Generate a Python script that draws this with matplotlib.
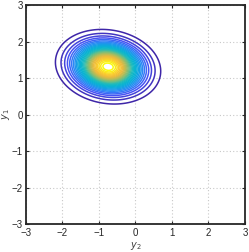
import numpy as np
import matplotlib
matplotlib.use('Agg')
import matplotlib.pyplot as plt
from matplotlib.colors import LinearSegmentedColormap

# distribution
mu = [-0.75, 1.31]          # (y2, y1) of the peak
sd = [0.55, 0.39]           # spread along y2 and y1
rho = -0.12                 # correlation
n_levels = 30               # contour levels, evenly spaced fractions of the peak

ticks = [-3, -2, -1, 0, 1, 2, 3]

# parula-like colormap
parula = LinearSegmentedColormap.from_list('parula', [
    (0.00, (0.2422, 0.1504, 0.6603)),
    (0.10, (0.2810, 0.3228, 0.9579)),
    (0.20, (0.1786, 0.5289, 0.9682)),
    (0.30, (0.0689, 0.6376, 0.8891)),
    (0.40, (0.0297, 0.7082, 0.8163)),
    (0.50, (0.1400, 0.7350, 0.7200)),
    (0.60, (0.4420, 0.7481, 0.5033)),
    (0.70, (0.7157, 0.7378, 0.3405)),
    (0.80, (0.9264, 0.7308, 0.2407)),
    (0.90, (0.9856, 0.8008, 0.1783)),
    (1.00, (0.9763, 0.9831, 0.0538)),
])

x = np.linspace(-3, 3, 500)
y = np.linspace(-3, 3, 500)
X, Y = np.meshgrid(x, y)
dx = (X - mu[0]) / sd[0]
dy = (Y - mu[1]) / sd[1]
Z = np.exp(-(dx**2 - 2*rho*dx*dy + dy**2) / (2*(1 - rho**2)))
levels = np.arange(1, n_levels + 1) / (n_levels + 1)

plt.rcParams['font.family'] = ['Liberation Sans', 'DejaVu Sans']
fig = plt.figure(figsize=(2.49, 2.52), dpi=100)
ax = fig.add_axes([0.104, 0.111, 0.88, 0.869])

ax.contour(X, Y, Z, levels=levels, cmap=parula, linewidths=1.1)

ax.set_xlim(-3, 3)
ax.set_ylim(-3, 3)
ax.set_xticks(ticks)
ax.set_yticks(ticks)
ax.tick_params(direction='in', length=2.5, width=0.8, labelsize=7,
               top=True, right=True, colors='#262626')
ax.tick_params(axis='x', pad=3)
ax.tick_params(axis='y', pad=2)
ax.grid(True, linestyle=(0, (1, 2)), color='#c8c8c8', linewidth=0.8)
ax.set_axisbelow(True)
for s in ax.spines.values():
    s.set_linewidth(1.3)
    s.set_color('#262626')

ax.set_xlabel('$y_2$', fontsize=7, labelpad=1, color='#404040')
ax.set_ylabel('$y_1$', fontsize=7, labelpad=0, color='#404040')

fig.savefig('out.png', dpi=100)
